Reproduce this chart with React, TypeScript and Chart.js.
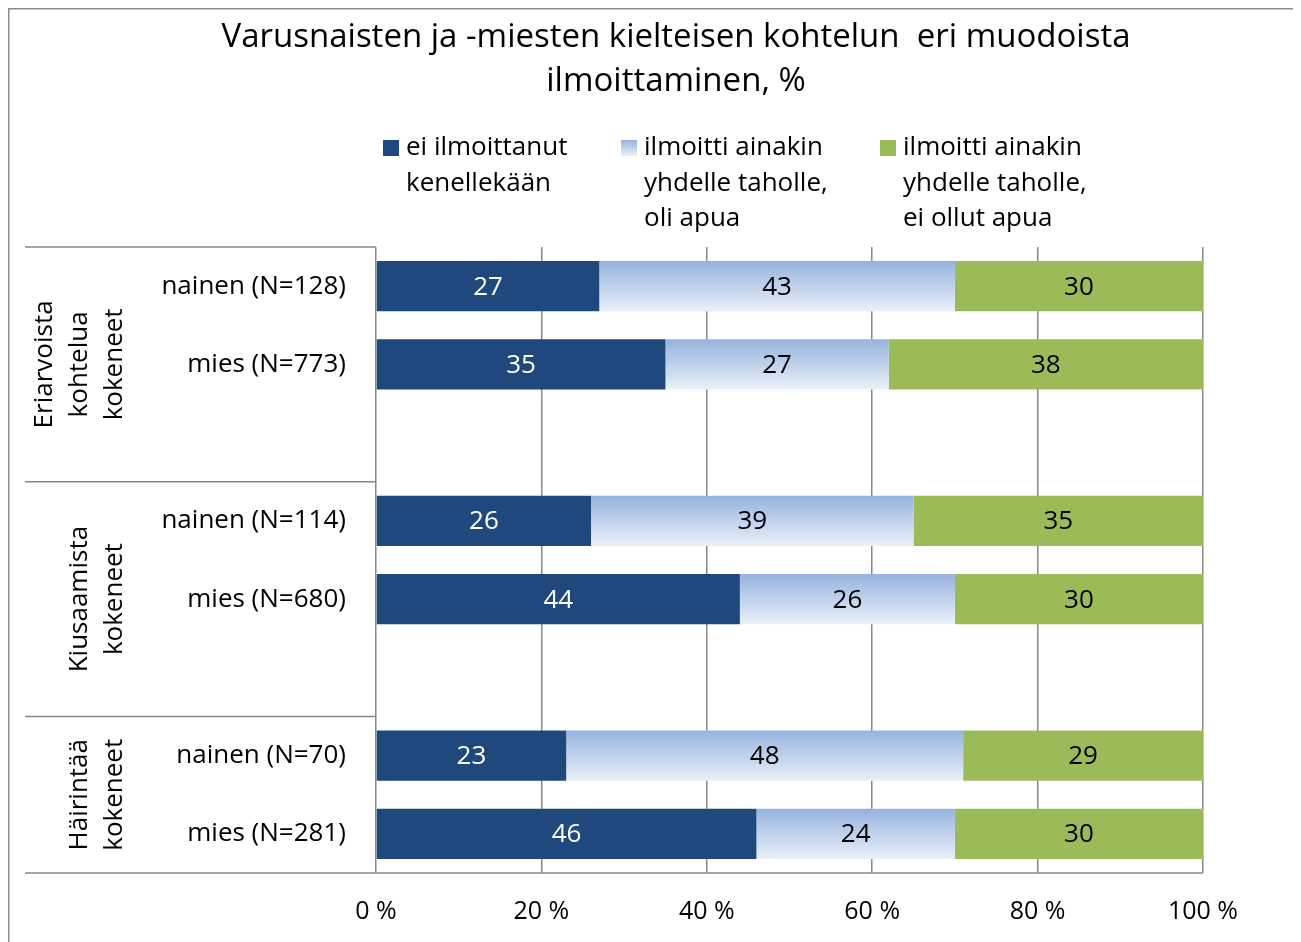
import React, { useEffect, useRef } from 'react';
import { Chart, registerables } from 'chart.js';

Chart.register(...registerables);

const TITLE_LINES = ['Varusnaisten ja -miesten kielteisen kohtelun  eri muodoista', 'ilmoittaminen, %'];
const CATEGORIES = ['nainen (N=128)', 'mies (N=773)', '', 'nainen (N=114)', 'mies (N=680)', '', 'nainen (N=70)', 'mies (N=281)'];
const SERIES_NAMES = [
  ['ei ilmoittanut', 'kenellekään'],
  ['ilmoitti ainakin', 'yhdelle taholle,', 'oli apua'],
  ['ilmoitti ainakin', 'yhdelle taholle,', 'ei ollut apua'],
];
const NOT_REPORTED = [27, 35, null, 26, 44, null, 23, 46];
const REPORTED_HELPED = [43, 27, null, 39, 26, null, 48, 24];
const REPORTED_NOT_HELPED = [30, 38, null, 35, 30, null, 29, 30];
const GROUP_LABELS = [['Eriarvoista', 'kohtelua', 'kokeneet'], ['Kiusaamista', 'kokeneet'], ['Häirintää', 'kokeneet']];
const GROUP_RANGES = [[0, 2], [3, 5], [6, 7]];
const X_TICKS = [0, 20, 40, 60, 80, 100];

const FONT = '"Open Sans", "Noto Sans", sans-serif';
const DARK = '#1F497D';
const GREEN = '#9BBB59';
const GRID = '#888888';
const LABEL_COLORS = ['#ffffff', '#000000', '#000000'];
const BAR_HALF = 25;

function lightGradient(c2d: CanvasRenderingContext2D, top: number, bottom: number) {
  const g = c2d.createLinearGradient(0, top, 0, bottom);
  g.addColorStop(0, '#95B3DE');
  g.addColorStop(1, '#EAF0F9');
  return g;
}

const customPlugin = {
  id: 'customDecor',
  beforeDraw(chart: any) {
    const ctx = chart.ctx as CanvasRenderingContext2D;
    ctx.save();
    ctx.fillStyle = '#ffffff';
    ctx.fillRect(0, 0, chart.width, chart.height);
    ctx.restore();
  },
  afterDatasetsDraw(chart: any) {
    const ctx = chart.ctx as CanvasRenderingContext2D;
    ctx.save();
    ctx.font = `26px ${FONT}`;
    ctx.textAlign = 'center';
    ctx.textBaseline = 'middle';
    chart.data.datasets.forEach((ds: any, di: number) => {
      const meta = chart.getDatasetMeta(di);
      meta.data.forEach((el: any, i: number) => {
        const v = ds.data[i];
        if (v == null) return;
        const p = el.getProps(['x', 'y', 'base'], true);
        ctx.fillStyle = LABEL_COLORS[di];
        ctx.fillText(String(v), (p.x + p.base) / 2, p.y + 1);
      });
    });
    ctx.restore();
  },
  afterDraw(chart: any) {
    const ctx = chart.ctx as CanvasRenderingContext2D;
    const ca = chart.chartArea;
    const yScale = chart.scales.y;
    ctx.save();

    // outer border
    ctx.strokeStyle = '#8a8a8a';
    ctx.lineWidth = 1.5;
    ctx.beginPath();
    ctx.moveTo(0.75, chart.height + 5);
    ctx.lineTo(0.75, 0.75);
    ctx.lineTo(1286.25, 0.75);
    ctx.lineTo(1286.25, chart.height + 5);
    ctx.stroke();

    // title
    ctx.fillStyle = '#000';
    ctx.font = `33px ${FONT}`;
    ctx.textAlign = 'center';
    ctx.textBaseline = 'middle';
    TITLE_LINES.forEach((t, i) => ctx.fillText(t, 668, 30 + i * 44));

    // legend
    const legendX = [375, 613, 872];
    ctx.font = `26px ${FONT}`;
    ctx.textAlign = 'left';
    SERIES_NAMES.forEach((lines, si) => {
      const bx = legendX[si];
      if (si === 1) ctx.fillStyle = lightGradient(ctx, 132, 148);
      else ctx.fillStyle = si === 0 ? DARK : GREEN;
      ctx.fillRect(bx, 132, 16, 16);
      ctx.fillStyle = '#000';
      lines.forEach((l, li) => ctx.fillText(l, bx + 23, 140 + li * 35.5));
    });

    // group separators and labels
    const catH = (ca.bottom - ca.top) / CATEGORIES.length;
    ctx.strokeStyle = GRID;
    ctx.lineWidth = 1.5;
    GROUP_RANGES.forEach(([from, to], gi) => {
      const top = yScale.getPixelForValue(from) - catH / 2;
      const bottom = yScale.getPixelForValue(to) + catH / 2;
      ctx.beginPath();
      ctx.moveTo(17, top);
      ctx.lineTo(ca.left, top);
      ctx.stroke();
      const lines = GROUP_LABELS[gi];
      const cy = (top + bottom) / 2;
      ctx.fillStyle = '#000';
      ctx.font = `26px ${FONT}`;
      ctx.textAlign = 'center';
      ctx.textBaseline = 'middle';
      lines.forEach((l, li) => {
        const x = 107 - (lines.length - 1 - li) * 35;
        ctx.save();
        ctx.translate(x, cy);
        ctx.rotate(-Math.PI / 2);
        ctx.fillText(l, 0, 0);
        ctx.restore();
      });
    });
    // bottom axis line
    ctx.beginPath();
    ctx.moveTo(17, ca.bottom);
    ctx.lineTo(ca.right, ca.bottom);
    ctx.stroke();
    ctx.restore();
  },
};

export default function App() {
  const ref = useRef<HTMLCanvasElement>(null);
  useEffect(() => {
    document.documentElement.style.overflow = 'hidden';
    document.body.style.overflow = 'hidden';
    const canvas = ref.current;
    if (!canvas) return;
    const chart = new Chart(canvas, {
      type: 'bar',
      data: {
        labels: CATEGORIES,
        datasets: [
          { label: SERIES_NAMES[0].join(' '), data: NOT_REPORTED, backgroundColor: DARK },
          {
            label: SERIES_NAMES[1].join(' '),
            data: REPORTED_HELPED,
            backgroundColor: (c: any) => {
              const ch = c.chart;
              const y = ch.scales && ch.scales.y;
              if (!y || c.dataIndex == null) return '#C3D3EC';
              const py = y.getPixelForValue(c.dataIndex);
              if (!Number.isFinite(py)) return '#C3D3EC';
              return lightGradient(ch.ctx, py - BAR_HALF, py + BAR_HALF);
            },
          },
          { label: SERIES_NAMES[2].join(' '), data: REPORTED_NOT_HELPED, backgroundColor: GREEN },
        ],
      },
      options: {
        indexAxis: 'y',
        responsive: false,
        animation: false,
        devicePixelRatio: 1,
        layout: { padding: { top: 239, right: 92, bottom: 0, left: 0 } },
        datasets: { bar: { barPercentage: 0.64, categoryPercentage: 1, borderWidth: 0 } },
        plugins: { legend: { display: false }, title: { display: false }, tooltip: { enabled: false } },
        scales: {
          x: {
            stacked: true,
            min: 0,
            max: 100,
            afterBuildTicks: (s: any) => { s.ticks = X_TICKS.map((v) => ({ value: v })); },
            afterFit: (s: any) => { s.height = 69; },
            grid: { color: GRID, lineWidth: 1.5, drawTicks: false },
            border: { display: false },
            ticks: {
              padding: 24,
              color: '#000',
              font: { family: FONT, size: 25 },
              callback: (v: any) => `${v} %`,
            },
          },
          y: {
            stacked: true,
            afterFit: (s: any) => { s.width = 368; },
            grid: { display: false, drawTicks: false },
            border: { display: false },
            ticks: { padding: 30, color: '#000', font: { family: FONT, size: 26 } },
          },
        },
      },
      plugins: [customPlugin],
    } as any);
    return () => chart.destroy();
  }, []);
  return <canvas ref={ref} width={1287} height={934} style={{ display: 'block' }} />;
}
